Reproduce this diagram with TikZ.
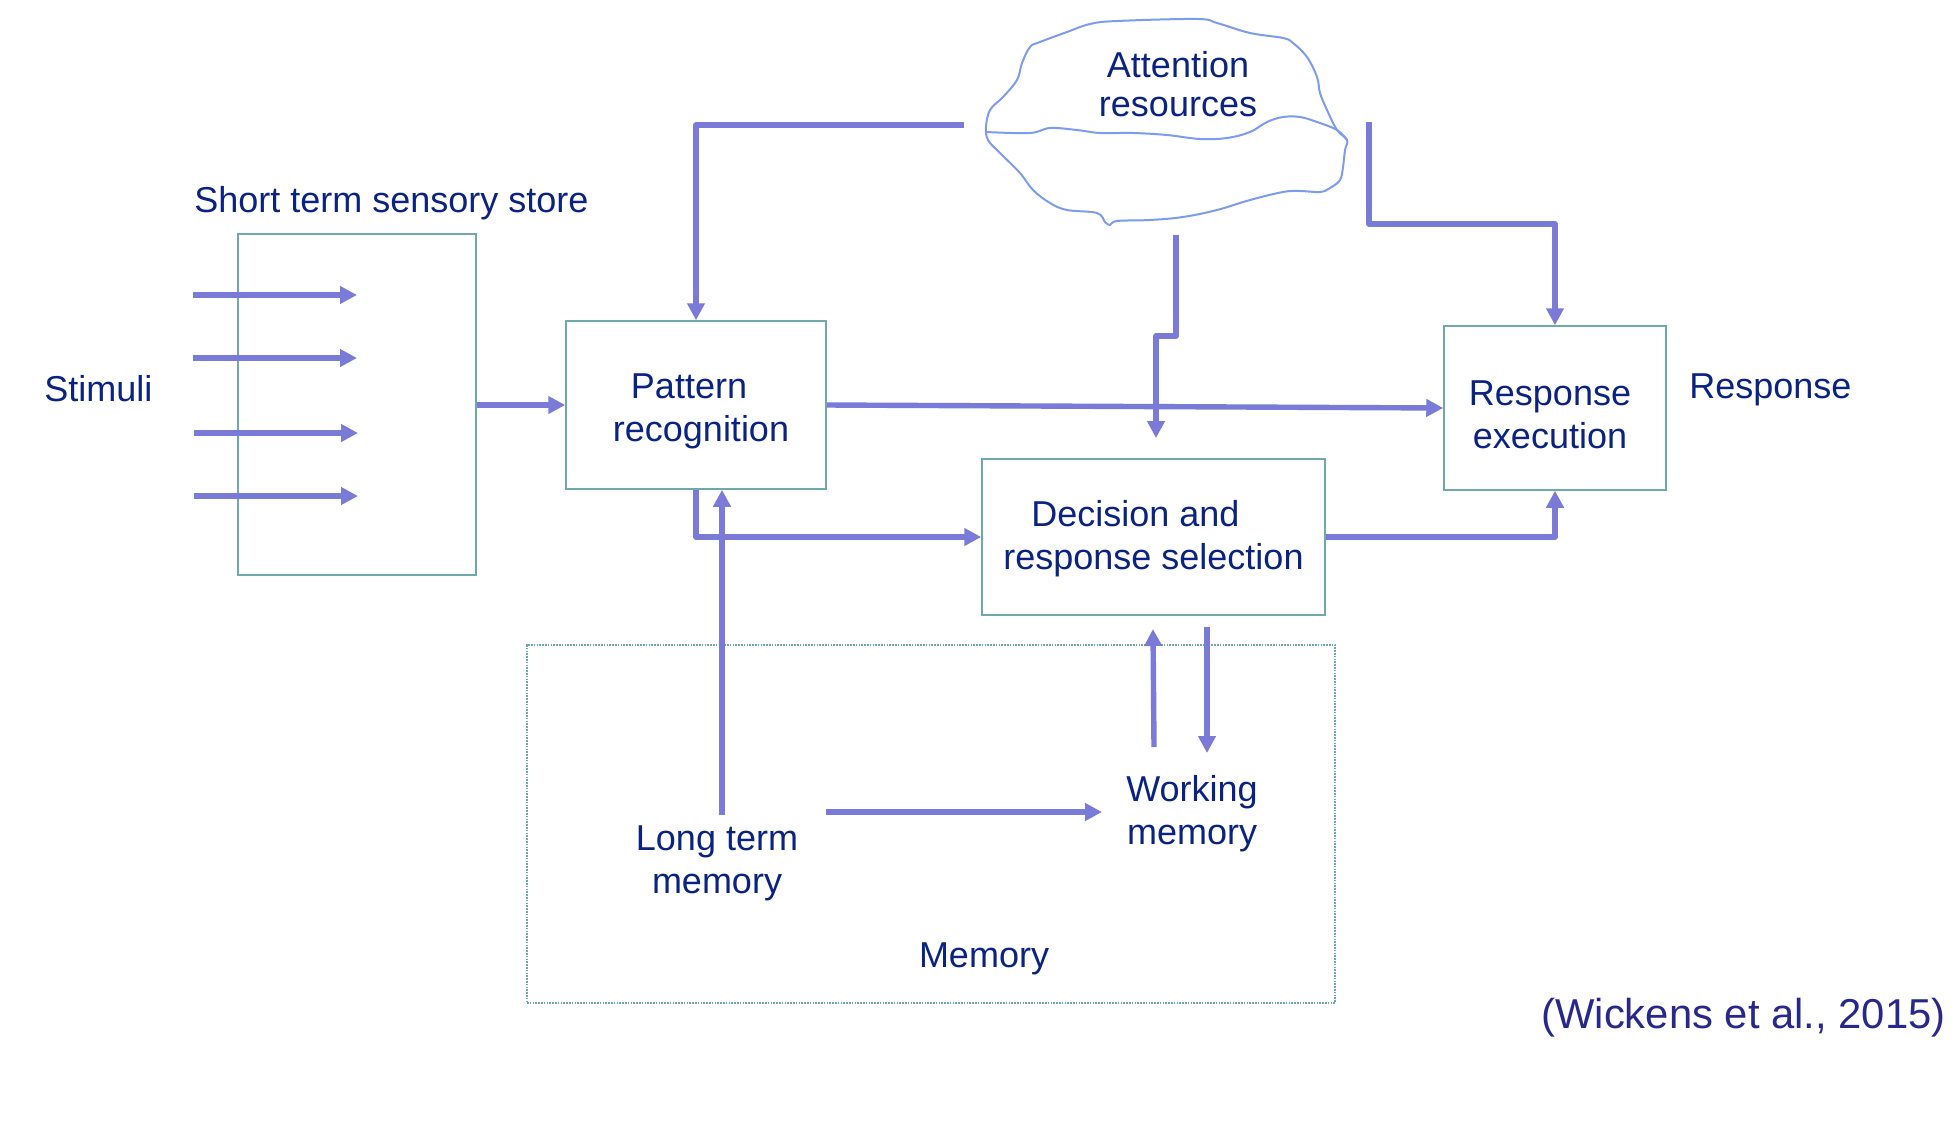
\documentclass[tikz,border=0pt]{standalone}
\usepackage{fontspec}
\setmainfont{Liberation Sans}
\usetikzlibrary{arrows.meta}
\definecolor{arrowc}{RGB}{122,122,216}
\definecolor{txtc}{RGB}{10,35,130}
\definecolor{citec}{RGB}{40,40,140}
\definecolor{boxc}{RGB}{110,170,170}
\definecolor{cloudc}{RGB}{125,155,240}
\begin{document}
\begin{tikzpicture}[x=0.5pt,y=-0.5pt,
  lbl/.style={text=txtc, font=\fontsize{18pt}{21.5pt}\selectfont, align=center, inner sep=0pt},
  box/.style={draw=boxc, line width=0.75pt, inner sep=0pt, lbl},
  membox/.style={draw=boxc, line width=0.6pt, dash pattern=on 0.8pt off 0.6pt, inner sep=0pt},
  flow/.style={draw=arrowc, line width=2.7pt, line join=round, -{Triangle[length=8.5pt,width=8.5pt]}},
]
\useasboundingbox (0,0) rectangle (1958,1124);

% cloud
\draw[cloudc, line width=1pt] plot[smooth cycle, tension=0.6] coordinates {(986,127) (990,110) (1003,97) (1017,80) (1022,63) (1030,47) (1040,42) (1067,32) (1090,24) (1117,21) (1197,19) (1217,23) (1250,33) (1283,38) (1293,43) (1307,57) (1317,77) (1320,93) (1327,110) (1337,130) (1347,140) (1345,150) (1343,167) (1340,180) (1330,188) (1320,192) (1300,191) (1283,192) (1250,200) (1217,210) (1183,217) (1150,220) (1117,221) (1110,225) (1105,222) (1097,213) (1067,210) (1050,203) (1033,190) (1020,173) (1000,153) (988,140)};
\draw[cloudc, line width=1pt] plot[smooth, tension=0.6] coordinates {(986,132) (1030,133) (1050,128) (1077,130) (1100,133) (1133,133) (1167,135) (1200,139) (1227,138) (1250,132) (1267,122) (1283,117) (1300,117) (1317,122) (1337,130) (1347,140)};
\node[lbl, font=\fontsize{18pt}{19.5pt}\selectfont] (att) at (1178,84) {Attention\\resources};

% boxes
\node[box, minimum width=119pt, minimum height=170.5pt] (store) at (357,404.5) {};
\node[box, minimum width=130pt, minimum height=84pt] (pat) at (696,405) {\rule{0pt}{19pt}Pattern\hspace*{7pt}\\\hspace*{5pt}recognition};
\node[box, minimum width=171.5pt, minimum height=78pt] (dec) at (1153.5,537) {\rule{0pt}{15pt}Decision and\hspace*{18pt}\\response selection};
\node[box, minimum width=111pt, minimum height=82pt] (resp) at (1555,408) {\rule{0pt}{19pt}Response\hspace*{5pt}\\execution\hspace*{5pt}};
\node[membox, minimum width=404pt, minimum height=179pt] (mem) at (931,824) {};

% labels
\node[lbl, anchor=base west] (stim) at (44,401) {Stimuli};
\node[lbl, anchor=base west] (sts) at (194,212) {Short term sensory store};
\node[lbl, anchor=base west] (resplbl) at (1689,398) {Response};
\node[lbl] (wm) at (1192,814) {Working\\memory};
\node[lbl] (ltm) at (717,863) {Long term\\memory};
\node[lbl, anchor=base] (memlbl) at (984,967) {Memory};
\node[text=citec, font=\fontsize{20.9pt}{24pt}\selectfont, anchor=base west, inner sep=0pt] (cite) at (1541,1028) {(Wickens et al., 2015)};

% stimulus arrows
\coordinate (s1a) at (193,295); \coordinate (s1b) at (357,295);
\coordinate (s2a) at (193,358); \coordinate (s2b) at (357,358);
\coordinate (s3a) at (194,433); \coordinate (s3b) at (358,433);
\coordinate (s4a) at (194,496); \coordinate (s4b) at (358,496);
\draw[flow] (s1a) -- (s1b);
\draw[flow] (s2a) -- (s2b);
\draw[flow] (s3a) -- (s3b);
\draw[flow] (s4a) -- (s4b);

% connectors
\draw[flow] (store.east |- pat.west) -- (pat.west);
\draw[flow] (pat.east) -- (resp.west);
\coordinate (atl) at (964,125);
\draw[flow] (atl) -| (pat.north);
\coordinate (atr) at (1369,122);
\coordinate (atrk) at (1369,224);
\draw[flow] (atr) -- (atrk) -| (resp.north);
\coordinate (atd) at (1176,235);
\coordinate (atdk) at (1176,336);
\coordinate (atdt) at (1156,438);
\draw[flow] (atd) -- (atdk) -| (atdt);
\draw[flow] (pat.south) |- (dec.west);
\coordinate (ltmtop) at (722,815);
\draw[flow] (ltmtop) -- (ltmtop |- pat.south);
\draw[flow] (dec.east) -| (resp.south);
\coordinate (lw1) at (826,812); \coordinate (lw2) at (1102,812);
\draw[flow] (lw1) -- (lw2);
\coordinate (wu1) at (1154,747); \coordinate (wu2) at (1153,629);
\draw[flow] (wu1) -- (wu2);
\coordinate (wd1) at (1207,627); \coordinate (wd2) at (1207,753);
\draw[flow] (wd1) -- (wd2);
\end{tikzpicture}
\end{document}
